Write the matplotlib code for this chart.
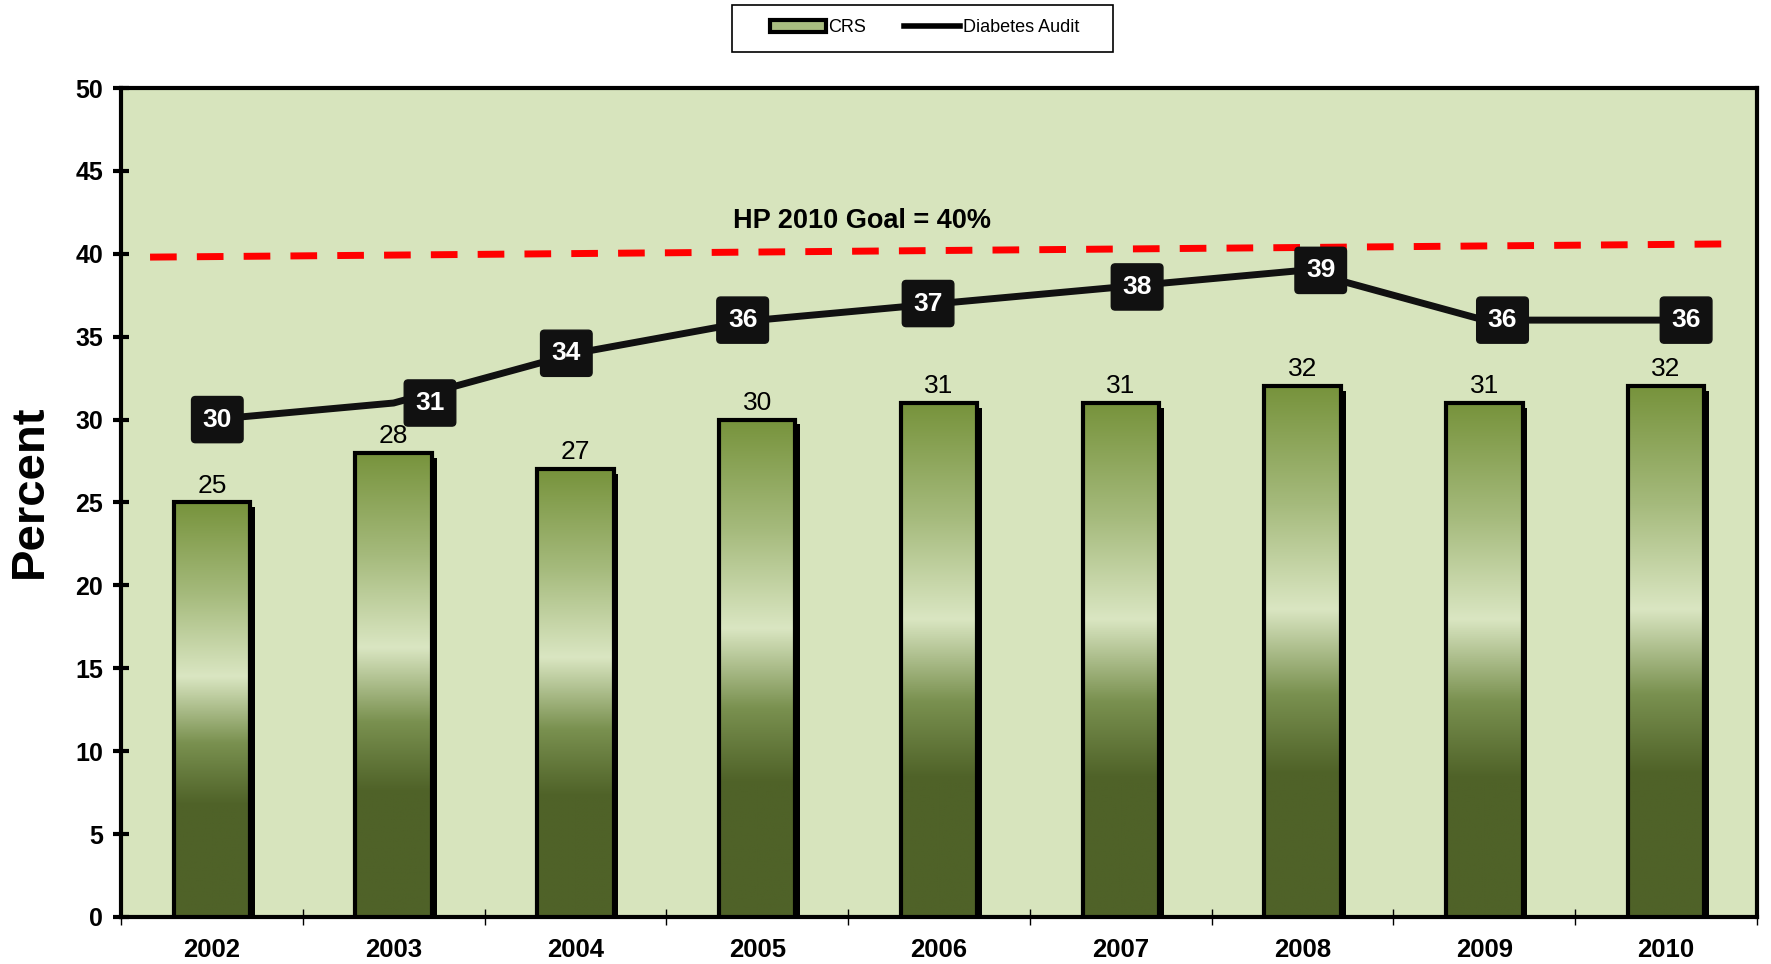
import numpy as np
import matplotlib
matplotlib.use('Agg')
import matplotlib.pyplot as plt
import matplotlib.patheffects as pe
from matplotlib.colors import LinearSegmentedColormap
from matplotlib.patches import Patch, Rectangle
from matplotlib.lines import Line2D

plt.rcParams['font.family'] = ['Liberation Sans', 'DejaVu Sans']

years = ['2002', '2003', '2004', '2005', '2006', '2007', '2008', '2009', '2010']
crs = [25, 28, 27, 30, 31, 31, 32, 31, 32]
audit = [30, 31, 34, 36, 37, 38, 39, 36, 36]
goal_ends = [39.8, 40.6]
goal_label = 'HP 2010 Goal = 40%'

# the value boxes on the audit line sit a little off the points
label_dx = [0.03, 0.2, -0.05, -0.08, -0.06, 0.09, 0.1, 0.1, 0.11]

bg = '#d7e4bd'
grad = LinearSegmentedColormap.from_list('bar', [
    (0.0, '#4f6228'), (0.27, '#4f6228'), (0.42, '#7a9150'),
    (0.58, '#dae6c2'), (0.78, '#a5ba7c'), (1.0, '#77933c')])

fig = plt.figure(figsize=(17.71, 9.64), dpi=100)
ax = fig.add_axes([0.0683, 0.0488, 0.9238, 0.8599])
ax.set_facecolor(bg)

x = np.arange(len(years))
w = 0.42
g = np.linspace(0, 1, 256).reshape(-1, 1)

for xi, h in zip(x, crs):
    base = ax.bar(xi, h, w, color='k', zorder=2,
                  path_effects=[pe.SimplePatchShadow(offset=(3.5, -3.5), shadow_rgbFace='k', alpha=1), pe.Normal()])
    im = ax.imshow(g, cmap=grad, extent=(xi - w/2, xi + w/2, 0, h), origin='lower',
                   aspect='auto', zorder=3)
    im.set_clip_path(base[0])
    ax.bar(xi, h, w, facecolor='none', edgecolor='k', linewidth=3, zorder=4)
    ax.text(xi, h + 0.3, str(h), ha='center', va='bottom', fontsize=19, zorder=5)

ax.plot([-0.34, 8.38], goal_ends, color='#ff0000', linewidth=5, dashes=(3.84, 2.9), zorder=2)
ax.text(3.575, 42.0, goal_label, ha='center', va='center', fontsize=19.5, fontweight='bold')

ax.plot(x, audit, color='#111111', linewidth=5, zorder=5)
for xi, v, dx in zip(x, audit, label_dx):
    ax.text(xi + dx, v, str(v), ha='center', va='center', color='white', fontsize=19,
            fontweight='bold', zorder=6,
            bbox=dict(boxstyle='round,pad=0.42,rounding_size=0.15', fc='#111111', ec='#111111'))

ax.set_xlim(-0.5, 8.5)
ax.set_ylim(0, 50)
ax.set_yticks(np.arange(0, 51, 5))
ax.set_xticks(x)
ax.set_xticklabels(years)
ax.set_xticks(np.arange(-0.5, 9, 1), minor=True)
ax.tick_params(axis='x', which='major', length=0, labelsize=18.5, pad=15)
ax.tick_params(axis='x', which='minor', direction='inout', length=12, width=1)
ax.tick_params(axis='y', direction='inout', length=12, width=3, labelsize=18, pad=7)
for lab in ax.get_xticklabels() + ax.get_yticklabels():
    lab.set_fontweight('bold')
for s in ax.spines.values():
    s.set_linewidth(3)
ax.set_ylabel('Percent', fontsize=34, fontweight='bold')
ax.yaxis.set_label_coords(-0.0425, 0.513)

handles = [Patch(facecolor='#a9bd80', edgecolor='k', linewidth=3),
           Line2D([0], [0], color='k', linewidth=4)]
leg = fig.legend(handles, ['CRS', 'Diabetes Audit'], loc='center', bbox_to_anchor=(0.522, 0.971),
                 ncol=2, fontsize=13, frameon=False, columnspacing=2.1,
                 handlelength=3.1, handletextpad=0.15)
fig.patches.append(Rectangle((732 / 1771, 1 - 52 / 964), 381 / 1771, 47 / 964,
                             transform=fig.transFigure, facecolor='none', edgecolor='k',
                             linewidth=1.2))

fig.savefig('out.png', dpi=100, facecolor='white')
